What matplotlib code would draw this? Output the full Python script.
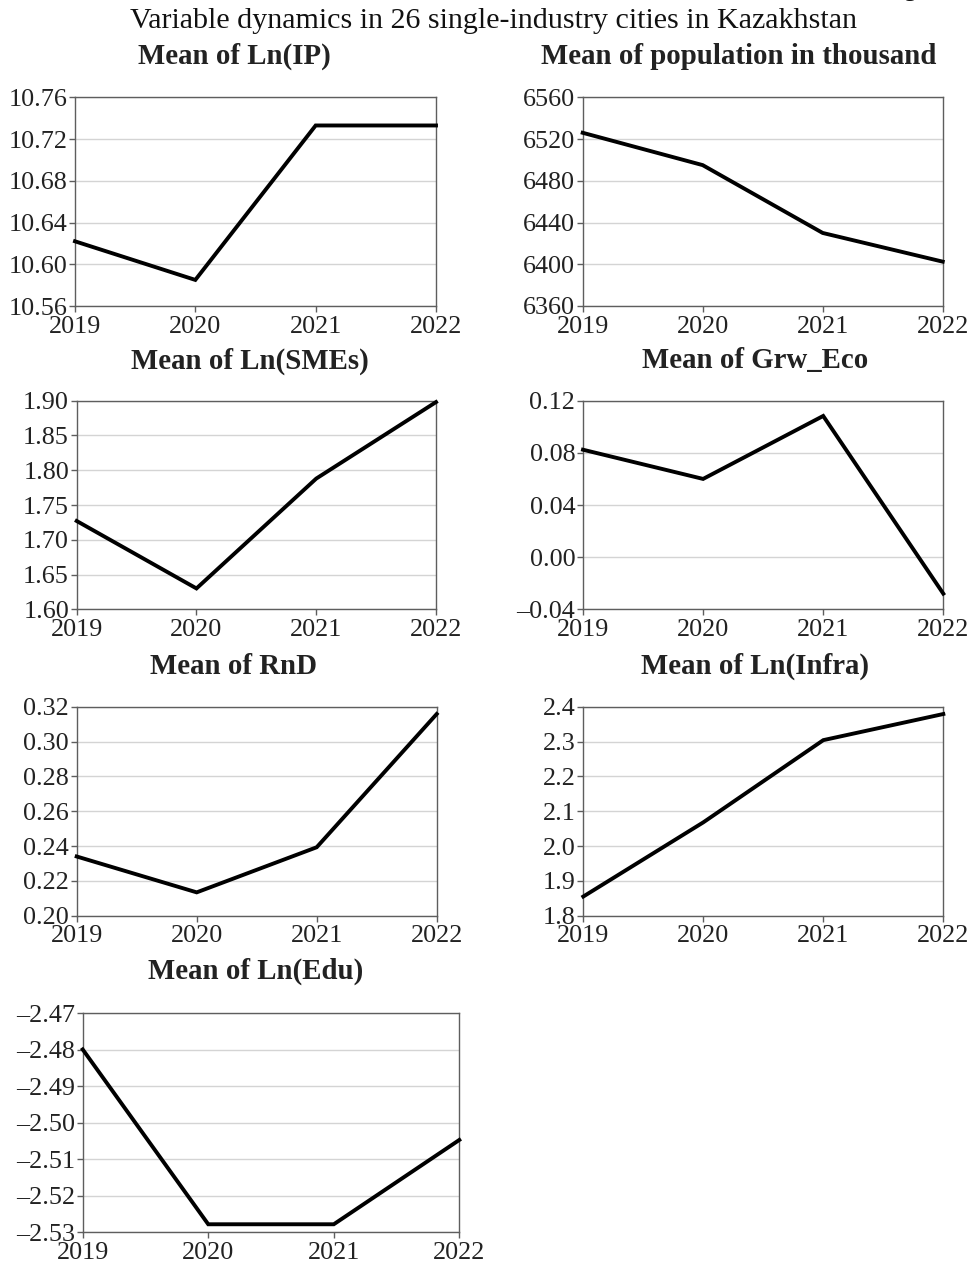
import matplotlib
matplotlib.use("Agg")
import matplotlib.pyplot as plt
from matplotlib.ticker import FuncFormatter

plt.rcParams['font.family'] = ['Liberation Serif', 'DejaVu Serif']

years = [2019, 2020, 2021, 2022]

ln_ip = [10.622, 10.585, 10.733, 10.733]
population = [6526, 6495, 6430, 6402.5]
ln_smes = [1.727, 1.630, 1.788, 1.898]
grw_eco = [0.0824, 0.060, 0.1083, -0.028]
rnd = [0.234, 0.2134, 0.2393, 0.3158]
ln_infra = [1.855, 2.068, 2.304, 2.379]
ln_edu = [-2.4799, -2.5278, -2.5278, -2.5047]

titles = ["Mean of Ln(IP)", "Mean of population in thousand", "Mean of Ln(SMEs)",
          "Mean of Grw_Eco", "Mean of RnD", "Mean of Ln(Infra)", "Mean of Ln(Edu)"]
series = [ln_ip, population, ln_smes, grw_eco, rnd, ln_infra, ln_edu]
yticks = [
    [10.56, 10.60, 10.64, 10.68, 10.72, 10.76],
    [6360, 6400, 6440, 6480, 6520, 6560],
    [1.60, 1.65, 1.70, 1.75, 1.80, 1.85, 1.90],
    [-0.04, 0.00, 0.04, 0.08, 0.12],
    [0.20, 0.22, 0.24, 0.26, 0.28, 0.30, 0.32],
    [1.8, 1.9, 2.0, 2.1, 2.2, 2.3, 2.4],
    [-2.53, -2.52, -2.51, -2.50, -2.49, -2.48, -2.47],
]
decimals = [2, 0, 2, 2, 2, 1, 2]

W, H = 973, 1267
# pixel boxes: left, top, right, bottom
boxes = [
    (75, 97.3, 436, 306),
    (582.7, 97.3, 942.7, 306),
    (76.7, 400.7, 436, 609.3),
    (583, 400.7, 943.3, 609.3),
    (76.7, 706.7, 436.7, 915.7),
    (583.3, 706.7, 943.3, 915.7),
    (82.7, 1013.3, 459.3, 1232.3),
]
title_pos = [(234, 56), (739, 56), (250, 361), (755, 361), (234, 666), (755, 666), (256, 971)]


def make_fmt(d):
    def f(v, pos):
        s = f"{abs(v):.{d}f}"
        return ("\u2013" + s) if v < -1e-12 else s
    return FuncFormatter(f)


fig = plt.figure(figsize=(W / 100, H / 100), dpi=100)
fig.patch.set_facecolor('white')

fig.text(494 / W, 1 - 21 / H, "Variable dynamics in 26 single-industry cities in Kazakhstan",
         ha='center', va='center', fontsize=21.6, color='#111111')
fig.text(910 / W, 1 + 4 / H, "g", ha='center', va='baseline', fontsize=18, color='#111111')

spine_c = '#5e5e5e'
for i in range(7):
    l, t, r, b = boxes[i]
    ax = fig.add_axes([l / W, 1 - b / H, (r - l) / W, (b - t) / H])
    ax.plot(years, series[i], color='black', lw=2.8, solid_joinstyle='miter', clip_on=False, zorder=3)
    ax.set_xlim(2019, 2022)
    ax.set_xticks(years)
    ax.set_ylim(yticks[i][0], yticks[i][-1])
    ax.set_yticks(yticks[i])
    ax.yaxis.set_major_formatter(make_fmt(decimals[i]))
    ax.grid(axis='y', color='#d4d4d4', lw=1.0)
    ax.set_axisbelow(True)
    for s in ax.spines.values():
        s.set_color(spine_c)
        s.set_linewidth(1.0)
    ax.tick_params(axis='both', direction='out', length=4, width=1.0, color=spine_c,
                   labelsize=18.8, labelcolor='#222222', pad=1.5)
    ax.tick_params(axis='x', pad=3)
    tx, ty = title_pos[i]
    fig.text(tx / W, 1 - ty / H, titles[i], ha='center', va='center', fontsize=20.8,
             fontweight='bold', color='#222222')

fig.savefig('out.png', dpi=100, facecolor='white')
